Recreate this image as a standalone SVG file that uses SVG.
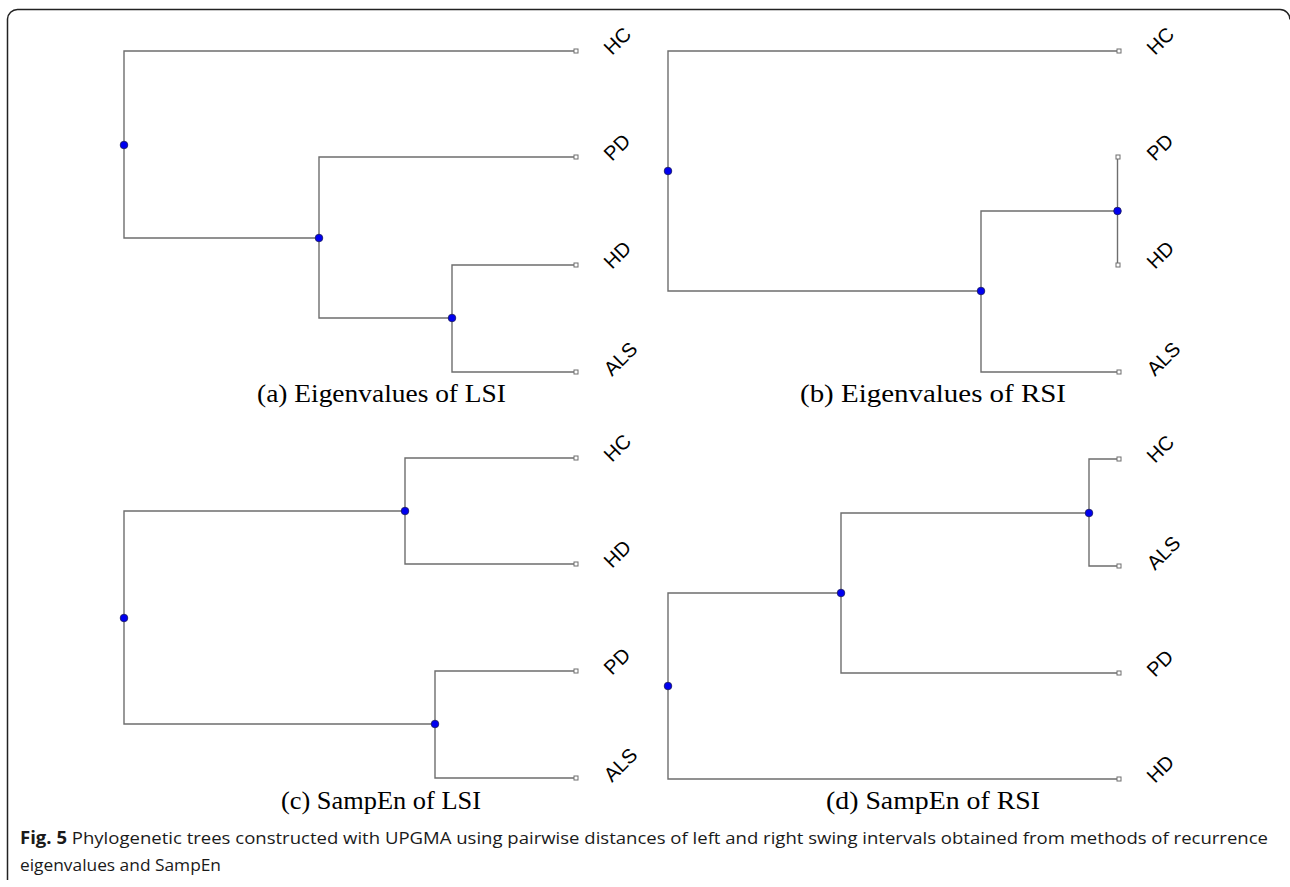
<svg xmlns="http://www.w3.org/2000/svg" width="1290" height="887" viewBox="0 0 1290 887">
<style>
.e{fill:none;stroke:#6e6e6e;stroke-width:1.4}
.n{fill:#0000f0;stroke:#1a1a5a;stroke-width:0.8}
.lf{fill:#fff;stroke:#6e6e6e;stroke-width:1}
.lb{font-family:"Liberation Sans",Arial,sans-serif;font-size:20px;fill:#000}
.sc{font-family:"Liberation Serif","Times New Roman",serif;font-size:26px;fill:#000}
.cap{font-family:"Open Sans","Noto Sans",sans-serif;font-size:17px;fill:#1a1a1a}
</style>
<rect width="1290" height="887" fill="#fff"/>
<path d="M7.5,880 V19 A10,10 0 0 1 17.5,9.5 H1280 A10,10 0 0 1 1290,19.5" fill="none" stroke="#222" stroke-width="1.5"/>
<g id="connectors">
<path class="e" d="M576,51 H124 V238 H319"/>
<path class="e" d="M576,157 H319 V318 H452"/>
<path class="e" d="M576,265 H452 V372 H576"/>
<path class="e" d="M1119,51 H668 V291 H981"/>
<path class="e" d="M1117.5,211 H981 V372 H1119"/>
<path class="e" d="M1117.5,157 V265"/>
<path class="e" d="M405,511 H124 V724 H435"/>
<path class="e" d="M576,458 H405 V564 H576"/>
<path class="e" d="M576,671 H435 V778 H576"/>
<path class="e" d="M841,593 H668 V779 H1119"/>
<path class="e" d="M1089,513 H841 V673 H1119"/>
<path class="e" d="M1119,459 H1089 V566 H1119"/>
</g>
<g id="nodes-a">
<circle class="n" cx="124" cy="145" r="3.8"/>
<circle class="n" cx="319" cy="238" r="3.8"/>
<circle class="n" cx="452" cy="318" r="3.8"/>
</g>
<g id="nodes-b">
<circle class="n" cx="668" cy="171" r="3.8"/>
<circle class="n" cx="981" cy="291" r="3.8"/>
<circle class="n" cx="1117.5" cy="211" r="3.8"/>
</g>
<g id="nodes-c">
<circle class="n" cx="124" cy="618" r="3.8"/>
<circle class="n" cx="405" cy="511" r="3.8"/>
<circle class="n" cx="435" cy="724" r="3.8"/>
</g>
<g id="nodes-d">
<circle class="n" cx="668" cy="686" r="3.8"/>
<circle class="n" cx="841" cy="593" r="3.8"/>
<circle class="n" cx="1089" cy="513" r="3.8"/>
</g>
<g id="leaves-a">
<rect class="lf" x="574" y="49" width="4" height="4"/>
<rect class="lf" x="574" y="155" width="4" height="4"/>
<rect class="lf" x="574" y="263" width="4" height="4"/>
<rect class="lf" x="574" y="370" width="4" height="4"/>
<text class="lb" transform="translate(612,56) rotate(-45)">HC</text>
<text class="lb" transform="translate(612,162) rotate(-45)">PD</text>
<text class="lb" transform="translate(612,270) rotate(-45)">HD</text>
<text class="lb" transform="translate(612,377) rotate(-45)">ALS</text>
</g>
<g id="leaves-b">
<rect class="lf" x="1117" y="49" width="4" height="4"/>
<rect class="lf" x="1116" y="155" width="4" height="4"/>
<rect class="lf" x="1116" y="263" width="4" height="4"/>
<rect class="lf" x="1117" y="370" width="4" height="4"/>
<text class="lb" transform="translate(1155,56) rotate(-45)">HC</text>
<text class="lb" transform="translate(1155,162) rotate(-45)">PD</text>
<text class="lb" transform="translate(1155,270) rotate(-45)">HD</text>
<text class="lb" transform="translate(1155,377) rotate(-45)">ALS</text>
</g>
<g id="leaves-c">
<rect class="lf" x="574" y="456" width="4" height="4"/>
<rect class="lf" x="574" y="562" width="4" height="4"/>
<rect class="lf" x="574" y="669" width="4" height="4"/>
<rect class="lf" x="574" y="776" width="4" height="4"/>
<text class="lb" transform="translate(612,463) rotate(-45)">HC</text>
<text class="lb" transform="translate(612,569) rotate(-45)">HD</text>
<text class="lb" transform="translate(612,676) rotate(-45)">PD</text>
<text class="lb" transform="translate(612,783) rotate(-45)">ALS</text>
</g>
<g id="leaves-d">
<rect class="lf" x="1117" y="457" width="4" height="4"/>
<rect class="lf" x="1117" y="564" width="4" height="4"/>
<rect class="lf" x="1117" y="671" width="4" height="4"/>
<rect class="lf" x="1117" y="777" width="4" height="4"/>
<text class="lb" transform="translate(1155,464) rotate(-45)">HC</text>
<text class="lb" transform="translate(1155,571) rotate(-45)">ALS</text>
<text class="lb" transform="translate(1155,678) rotate(-45)">PD</text>
<text class="lb" transform="translate(1155,784) rotate(-45)">HD</text>
</g>
<g id="subcaptions">
<text class="sc" x="257" y="402" textLength="249" lengthAdjust="spacingAndGlyphs">(a) Eigenvalues of LSI</text>
<text class="sc" x="800" y="402" textLength="266" lengthAdjust="spacingAndGlyphs">(b) Eigenvalues of RSI</text>
<text class="sc" x="281" y="809" textLength="200" lengthAdjust="spacingAndGlyphs">(c) SampEn of LSI</text>
<text class="sc" x="826" y="809" textLength="214" lengthAdjust="spacingAndGlyphs">(d) SampEn of RSI</text>
</g>
<g id="caption">
<text class="cap" x="20" y="844" textLength="1248" lengthAdjust="spacingAndGlyphs"><tspan font-weight="bold">Fig. 5</tspan>  Phylogenetic trees constructed with UPGMA using pairwise distances of left and right swing intervals obtained from methods of recurrence</text>
<text class="cap" x="20" y="871" textLength="201" lengthAdjust="spacingAndGlyphs">eigenvalues and SampEn</text>
</g>
</svg>
